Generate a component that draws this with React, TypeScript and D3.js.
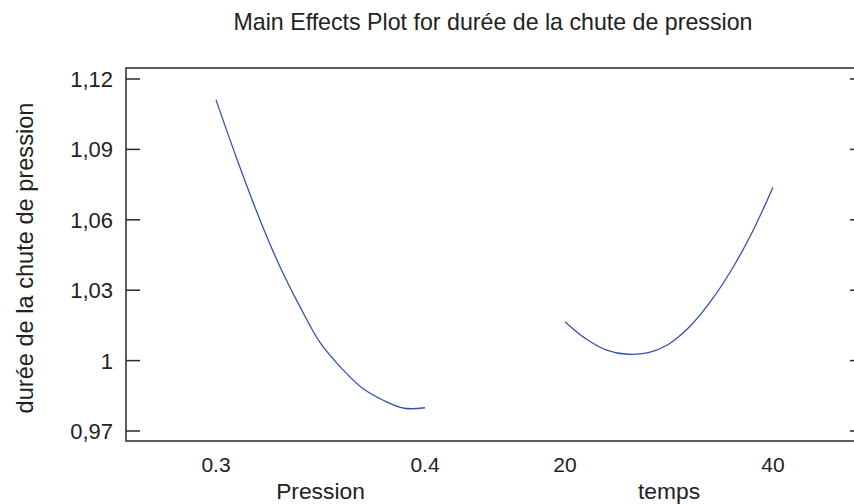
import React from "react";
import * as d3 from "d3";

const title = "Main Effects Plot for durée de la chute de pression";
const yTitle = "durée de la chute de pression";
const yTicks = [0.97, 1.0, 1.03, 1.06, 1.09, 1.12];

const pressionX = [0.3, 0.31, 0.32, 0.33, 0.34, 0.35, 0.36, 0.37, 0.38, 0.39, 0.4];
const pressionY = [1.1111, 1.0859, 1.0623, 1.0412, 1.0233, 1.0074, 0.9968, 0.9883, 0.9831, 0.9797, 0.9799];
const pressionTicks = [0.3, 0.4];

const tempsX = [20, 22, 24, 26, 28, 30, 32, 34, 36, 38, 40];
const tempsY = [1.0166, 1.0093, 1.0045, 1.0027, 1.0034, 1.0071, 1.0145, 1.0252, 1.0386, 1.0547, 1.0739];
const tempsTicks = [20, 40];

const W = 854;
const H = 504;
const frame = { left: 126, top: 68, bottom: 441, right: 870 };
const FONT = "'Liberation Sans', Arial, sans-serif";
const TEXT = "#222";
const AXIS = "#2a2a2a";
const LINE = "#3553ad";

export default function App() {
  const y = d3.scaleLinear().domain([0.97, 1.12]).range([431, 79]);
  const xP = d3.scaleLinear().domain([0.3, 0.4]).range([216, 425]);
  const xT = d3.scaleLinear().domain([20, 40]).range([565, 773]);

  const lineP = d3
    .line<number>()
    .x((_, i) => xP(pressionX[i]))
    .y((v) => y(v))
    .curve(d3.curveCatmullRom.alpha(0.5));
  const lineT = d3
    .line<number>()
    .x((_, i) => xT(tempsX[i]))
    .y((v) => y(v))
    .curve(d3.curveCatmullRom.alpha(0.5));

  const fmtY = (v: number) => {
    const s = d3.format(".2f")(v).replace(/0+$/, "").replace(/\.$/, "");
    return s.replace(".", ",");
  };

  return (
    <svg
      width={W}
      height={H}
      style={{ position: "absolute", left: 0, top: 0, background: "#fff" }}
      fontFamily={FONT}
    >
      <rect x={0} y={0} width={W} height={H} fill="#fff" />
      <text x={493} y={30} textAnchor="middle" fontSize={23.2} fill={TEXT}>
        {title}
      </text>

      {/* frame */}
      <path
        d={`M${frame.right},${frame.top}H${frame.left}V${frame.bottom}H${frame.right}`}
        fill="none"
        stroke={AXIS}
        strokeWidth={1.5}
      />

      {/* y ticks */}
      {yTicks.map((t) => (
        <g key={t}>
          <line x1={frame.left} x2={frame.left + 14} y1={y(t)} y2={y(t)} stroke={AXIS} strokeWidth={1.5} />
          <line x1={850} x2={W} y1={y(t)} y2={y(t)} stroke={AXIS} strokeWidth={1.5} />
          <text x={113} y={y(t)} dy="0.36em" textAnchor="end" fontSize={22} fill={TEXT}>
            {fmtY(t)}
          </text>
        </g>
      ))}

      <text
        transform={`translate(33,258) rotate(-90)`}
        textAnchor="middle"
        fontSize={23.6}
        fill={TEXT}
      >
        {yTitle}
      </text>

      {/* x tick labels */}
      {pressionTicks.map((t) => (
        <text key={"p" + t} x={xP(t)} y={472} textAnchor="middle" fontSize={21} fill={TEXT}>
          {String(t)}
        </text>
      ))}
      {tempsTicks.map((t) => (
        <text key={"t" + t} x={xT(t)} y={472} textAnchor="middle" fontSize={21} fill={TEXT}>
          {String(t)}
        </text>
      ))}
      <text x={(xP(0.3) + xP(0.4)) / 2} y={499} textAnchor="middle" fontSize={22.8} fill={TEXT}>
        Pression
      </text>
      <text x={(xT(20) + xT(40)) / 2} y={499} textAnchor="middle" fontSize={22.8} fill={TEXT}>
        temps
      </text>

      <path d={lineP(pressionY) || ""} fill="none" stroke={LINE} strokeWidth={1.3} />
      <path d={lineT(tempsY) || ""} fill="none" stroke={LINE} strokeWidth={1.3} />
    </svg>
  );
}
